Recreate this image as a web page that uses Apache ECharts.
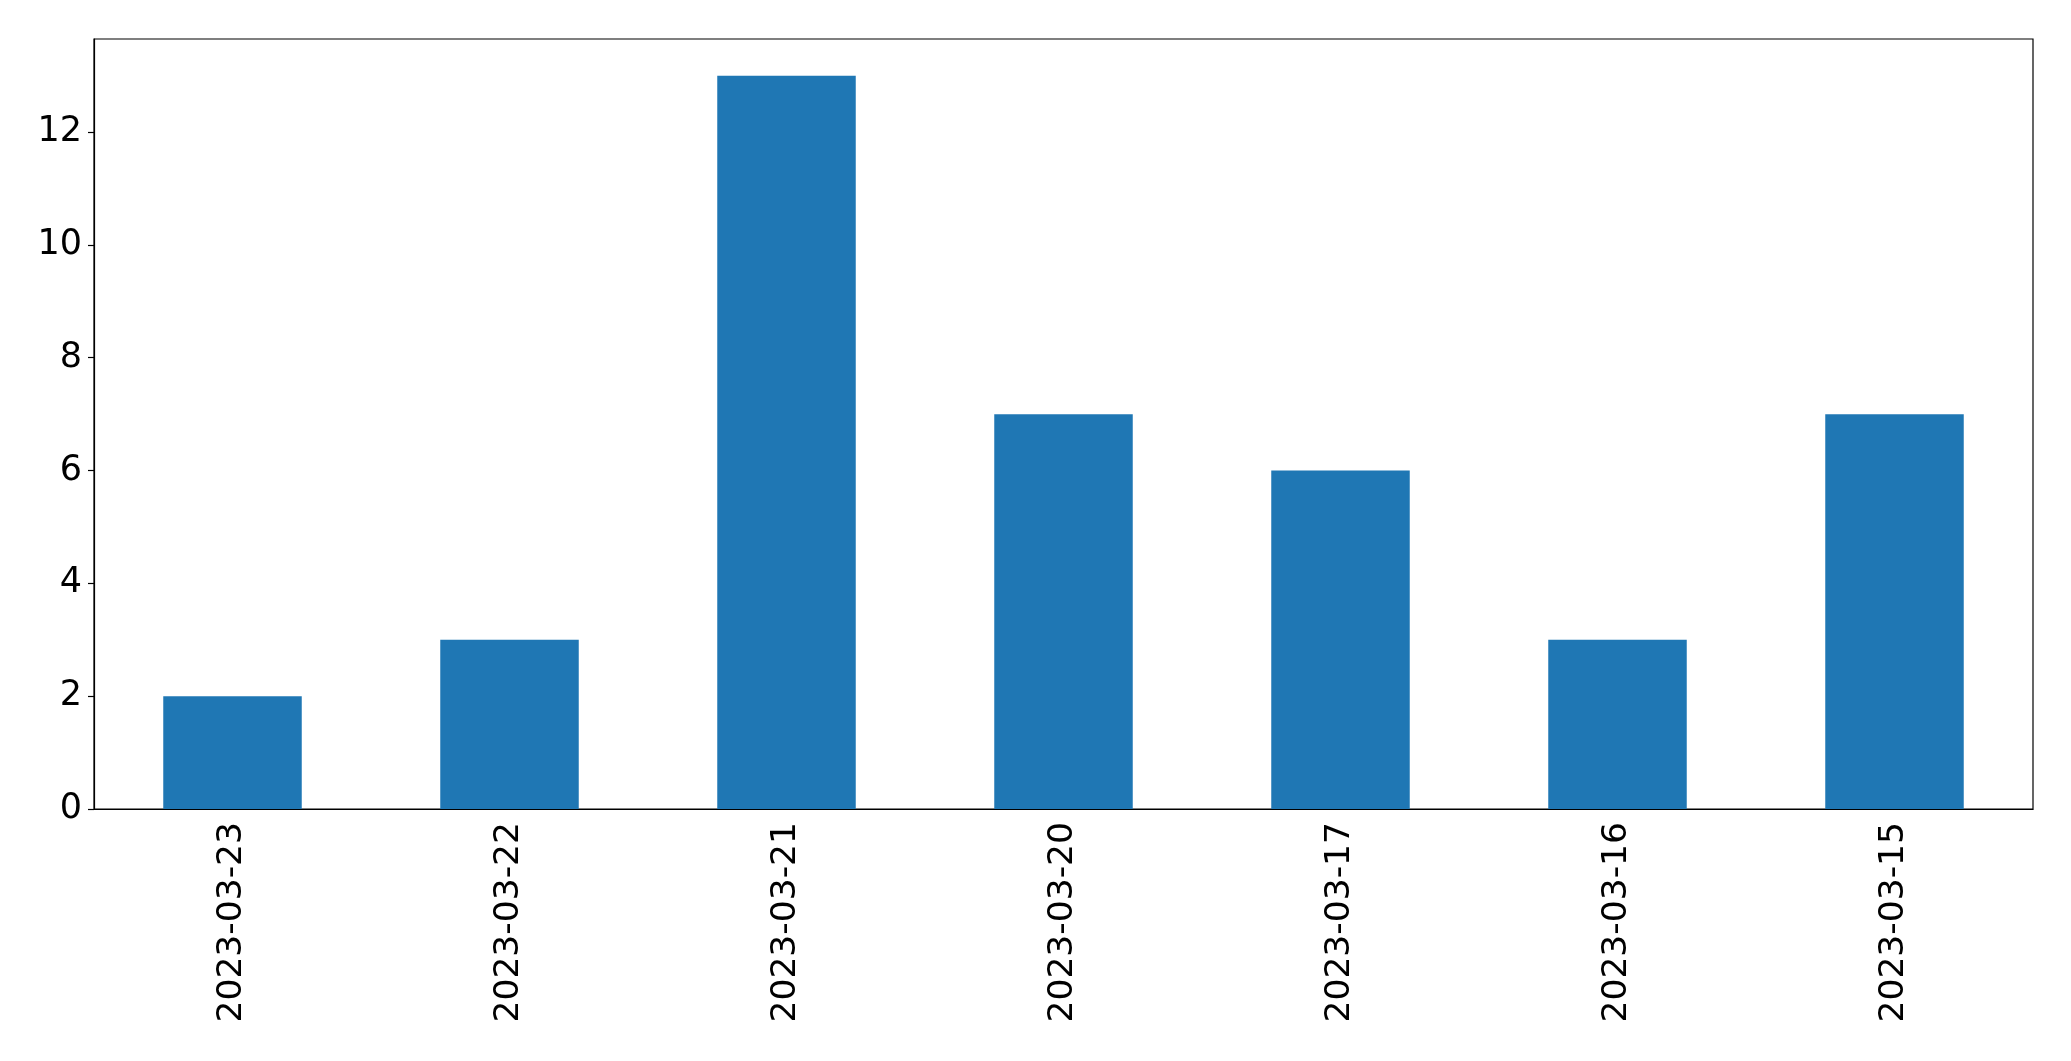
<!DOCTYPE html>
<html>
<head>
<meta charset="utf-8">
<script src="https://cdn.jsdelivr.net/npm/echarts@6/dist/echarts.min.js"></script>
<style>html,body{margin:0;padding:0;background:#fff}#c{width:2071px;height:1061px}</style>
</head>
<body>
<div id="c"></div>
<script>
const categories = ['2023-03-23','2023-03-22','2023-03-21','2023-03-20','2023-03-17','2023-03-16','2023-03-15'];
const values = [2, 3, 13, 7, 6, 3, 7];
const yTicks = [0, 2, 4, 6, 8, 10, 12];
const yMax = 13.65;

const chart = echarts.init(document.getElementById('c'), null, {renderer: 'canvas'});
const font = 'DejaVu Sans';
chart.setOption({
  animation: false,
  backgroundColor: '#fff',
  grid: {left: 94, right: 38, top: 39, bottom: 252, show: true, borderColor: '#000', borderWidth: 1.2, backgroundColor: 'transparent'},
  xAxis: {
    type: 'category',
    data: categories,
    boundaryGap: true,
    axisLine: {lineStyle: {color: '#000', width: 1.2}},
    axisTick: {alignWithLabel: true, length: 6, lineStyle: {color: '#000', width: 1.2}},
    axisLabel: {rotate: 90, color: '#000', fontFamily: font, fontSize: 34.5, margin: 13}
  },
  yAxis: {
    type: 'value',
    min: 0,
    max: yMax,
    interval: 2,
    splitLine: {show: false},
    axisLine: {show: true, lineStyle: {color: '#000', width: 1.2}},
    axisTick: {show: true, length: 6, customValues: yTicks, lineStyle: {color: '#000', width: 1.2}},
    axisLabel: {color: '#000', fontFamily: font, fontSize: 35, margin: 12, customValues: yTicks}
  },
  series: [{
    type: 'bar',
    data: values,
    barWidth: '50%',
    itemStyle: {color: '#1f77b4'}
  }]
});
</script>
</body>
</html>
